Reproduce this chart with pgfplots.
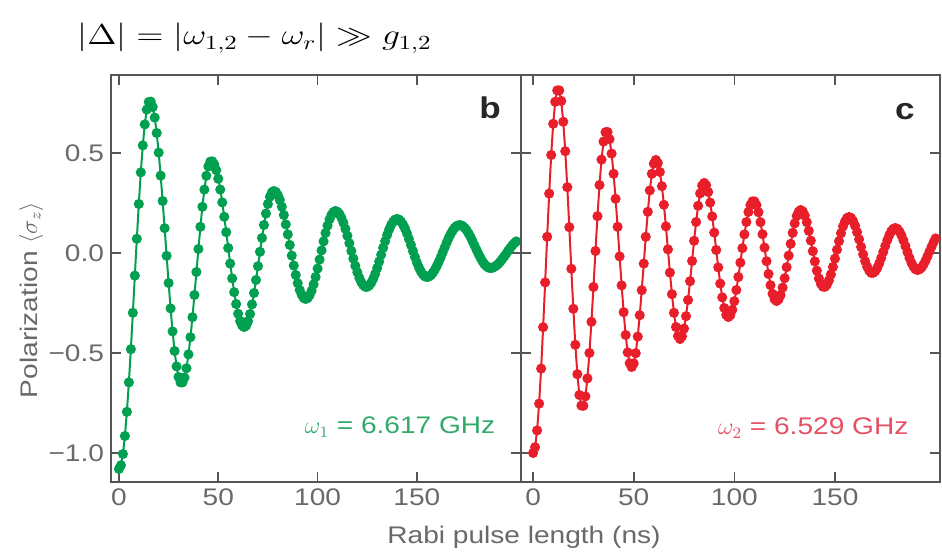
\documentclass[border=0pt]{standalone}
\usepackage{fontspec}
\setmainfont{Liberation Sans}[FakeStretch=1.17]
\usepackage{graphicx}
\usepackage{pgfplots}
\usepackage{pgfplotstable}
\pgfplotsset{compat=1.18}
\definecolor{grn}{RGB}{0,160,80}
\definecolor{rd}{RGB}{232,30,42}
\definecolor{grntxt}{RGB}{50,170,105}
\definecolor{rdtxt}{RGB}{228,80,100}
\definecolor{axgray}{RGB}{85,85,85}
\definecolor{lblgray}{RGB}{105,105,105}

\pgfplotstableread{
t y
0 -1.080
1 -1.061
2 -1.005
3 -0.915
4 -0.794
5 -0.647
6 -0.481
7 -0.299
8 -0.113
9 0.071
10 0.245
11 0.403
12 0.538
13 0.643
14 0.717
15 0.755
16 0.757
17 0.730
18 0.677
19 0.600
20 0.502
21 0.387
22 0.260
23 0.124
24 -0.014
25 -0.150
26 -0.277
27 -0.392
28 -0.490
29 -0.567
30 -0.620
31 -0.647
32 -0.647
33 -0.623
34 -0.576
35 -0.507
36 -0.421
37 -0.321
38 -0.210
39 -0.095
40 0.020
41 0.131
42 0.231
43 0.317
44 0.386
45 0.433
46 0.457
47 0.458
48 0.443
49 0.414
50 0.371
51 0.317
52 0.253
53 0.181
54 0.104
55 0.025
56 -0.053
57 -0.127
58 -0.196
59 -0.255
60 -0.304
61 -0.340
62 -0.362
63 -0.370
64 -0.363
65 -0.341
66 -0.305
67 -0.257
68 -0.200
69 -0.135
70 -0.066
71 0.006
72 0.075
73 0.140
74 0.197
75 0.245
76 0.281
77 0.303
78 0.310
79 0.305
80 0.289
81 0.265
82 0.231
83 0.190
84 0.143
85 0.093
86 0.040
87 -0.013
88 -0.063
89 -0.110
90 -0.151
91 -0.185
92 -0.209
93 -0.225
94 -0.230
95 -0.225
96 -0.211
97 -0.188
98 -0.157
99 -0.120
100 -0.078
101 -0.033
102 0.013
103 0.058
104 0.100
105 0.137
106 0.168
107 0.191
108 0.205
109 0.210
110 0.206
111 0.195
112 0.176
113 0.151
114 0.121
115 0.086
116 0.049
117 0.010
118 -0.028
119 -0.064
120 -0.096
121 -0.124
122 -0.146
123 -0.161
124 -0.169
125 -0.169
126 -0.162
127 -0.149
128 -0.129
129 -0.104
130 -0.075
131 -0.043
132 -0.009
133 0.026
134 0.059
135 0.090
136 0.117
137 0.140
138 0.156
139 0.167
140 0.170
141 0.167
142 0.157
143 0.142
144 0.122
145 0.098
146 0.070
147 0.040
148 0.010
149 -0.020
150 -0.048
151 -0.072
152 -0.092
153 -0.107
154 -0.117
155 -0.120
156 -0.118
157 -0.111
158 -0.099
159 -0.084
160 -0.065
161 -0.044
162 -0.021
163 0.004
164 0.028
165 0.053
166 0.075
167 0.095
168 0.112
169 0.126
170 0.135
171 0.139
172 0.139
173 0.135
174 0.126
175 0.114
176 0.098
177 0.080
178 0.059
179 0.038
180 0.016
181 -0.005
182 -0.024
183 -0.042
184 -0.056
185 -0.066
186 -0.073
187 -0.075
188 -0.074
189 -0.069
190 -0.063
191 -0.054
192 -0.043
193 -0.030
194 -0.017
195 -0.003
196 0.012
197 0.025
198 0.038
199 0.049
200 0.058
}\greendata

\pgfplotstableread{
t y
0 -1.000
1 -0.971
2 -0.887
3 -0.753
4 -0.578
5 -0.371
6 -0.147
7 0.081
8 0.297
9 0.490
10 0.646
11 0.756
12 0.813
13 0.813
14 0.760
15 0.656
16 0.509
17 0.329
18 0.129
19 -0.079
20 -0.279
21 -0.459
22 -0.606
23 -0.710
24 -0.763
25 -0.764
26 -0.717
27 -0.627
28 -0.500
29 -0.344
30 -0.170
31 0.010
32 0.184
33 0.340
34 0.467
35 0.557
36 0.604
37 0.605
38 0.569
39 0.497
40 0.396
41 0.271
42 0.131
43 -0.017
44 -0.162
45 -0.296
46 -0.410
47 -0.497
48 -0.551
49 -0.570
50 -0.552
51 -0.501
52 -0.418
53 -0.311
54 -0.186
55 -0.053
56 0.081
57 0.206
58 0.313
59 0.396
60 0.447
61 0.465
62 0.450
63 0.405
64 0.334
65 0.241
66 0.133
67 0.018
68 -0.098
69 -0.206
70 -0.299
71 -0.370
72 -0.415
73 -0.430
74 -0.417
75 -0.378
76 -0.316
77 -0.235
78 -0.141
79 -0.040
80 0.061
81 0.155
82 0.236
83 0.298
84 0.337
85 0.350
86 0.339
87 0.305
88 0.252
89 0.183
90 0.102
91 0.015
92 -0.072
93 -0.153
94 -0.222
95 -0.275
96 -0.309
97 -0.320
98 -0.311
99 -0.284
100 -0.241
101 -0.185
102 -0.120
103 -0.048
104 0.024
105 0.093
106 0.155
107 0.205
108 0.240
109 0.258
110 0.258
111 0.239
112 0.204
113 0.154
114 0.094
115 0.027
116 -0.041
117 -0.105
118 -0.161
119 -0.204
120 -0.231
121 -0.240
122 -0.232
123 -0.210
124 -0.173
125 -0.126
126 -0.071
127 -0.013
128 0.046
129 0.101
130 0.148
131 0.185
132 0.207
133 0.215
134 0.208
135 0.187
136 0.154
137 0.111
138 0.062
139 0.009
140 -0.042
141 -0.088
142 -0.127
143 -0.154
144 -0.168
145 -0.169
146 -0.158
147 -0.137
148 -0.107
149 -0.070
150 -0.028
151 0.016
152 0.059
153 0.099
154 0.133
155 0.158
156 0.175
157 0.180
158 0.175
159 0.160
160 0.136
161 0.104
162 0.068
163 0.030
164 -0.007
165 -0.041
166 -0.069
167 -0.088
168 -0.099
169 -0.099
170 -0.091
171 -0.075
172 -0.052
173 -0.025
174 0.005
175 0.035
176 0.064
177 0.089
178 0.109
179 0.121
180 0.125
181 0.121
182 0.108
183 0.089
184 0.064
185 0.035
186 0.005
187 -0.024
188 -0.049
189 -0.068
190 -0.081
191 -0.085
192 -0.082
193 -0.073
194 -0.058
195 -0.039
196 -0.016
197 0.008
198 0.031
199 0.054
200 0.073
}\reddata

\pgfplotsset{
  panel/.style={
    scale only axis,
    height=203.5pt,
    ymin=-1.145, ymax=0.89,
    ytick={-1,-0.5,0,0.5},
    xtick={0,50,100,150},
    xticklabels={0,50,100,150},
    tick align=inside,
    major tick length=5pt,
    every tick/.style={axgray, line width=0.8pt},
    axis line style={axgray, line width=1.3pt},
    tick label style={lblgray, font=\fontsize{12}{14}\selectfont},
    /pgf/number format/assume math mode=true,
    clip=true,
  },
}

\begin{document}
\begin{tikzpicture}
\useasboundingbox (0,0) rectangle (471pt,276pt);

\begin{axis}[panel,
  at={(55.5pt,35pt)}, anchor=south west,
  width=205pt,
  xmin=-4, xmax=202.4,
  yticklabels={−1.0,−0.5,0.0,0.5},
]
\addplot[grn, line width=1pt, mark=*, mark size=2pt, mark options={draw=grn, fill=grn}] table[x=t,y=y] {\greendata};
\node[font=\bfseries\fontsize{15}{17}\selectfont, text=black!85] at (axis cs:186.8,0.725) {b};
\node[anchor=east, text=grntxt, font=\fontsize{12}{14}\selectfont] at (axis cs:193,-0.87) {$\omega_1$ = 6.617 GHz};
\end{axis}

\begin{axis}[panel,
  at={(260.5pt,35pt)}, anchor=south west,
  width=209.5pt,
  xmin=-6, xmax=202.2,
  yticklabels={},
]
\addplot[rd, line width=1pt, mark=*, mark size=2pt, mark options={draw=rd, fill=rd}] table[x=t,y=y] {\reddata};
\node[font=\bfseries\fontsize{15}{17}\selectfont, text=black!85] at (axis cs:184.8,0.705) {c};
\node[anchor=east, text=rdtxt, font=\fontsize{12}{14}\selectfont] at (axis cs:190,-0.875) {$\omega_2$ = 6.529 GHz};
\end{axis}

\node[anchor=base west, inner sep=0pt] at (38.5pt,253.5pt) {\scalebox{1.24}[1]{\fontsize{14.4}{17}\selectfont $|\Delta| = |\omega_{1,2}-\omega_r| \gg g_{1,2}$}};
\node[rotate=90, text=lblgray, font=\fontsize{12}{14}\selectfont] at (15.5pt,126pt) {Polarization $\langle\sigma_z\rangle$};
\node[text=lblgray, font=\fontsize{12}{14}\selectfont] at (262pt,7.5pt) {Rabi pulse length (ns)};
\end{tikzpicture}
\end{document}
